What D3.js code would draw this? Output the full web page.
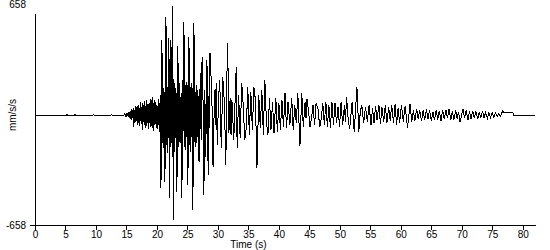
<!DOCTYPE html>
<html>
<head>
<meta charset="utf-8">
<script src="https://cdn.jsdelivr.net/npm/d3@7"></script>
<style>
  body { margin: 0; background: #fff; }
  text { font-family: "Liberation Sans", Arial, sans-serif; font-size: 10px; fill: #000; }
</style>
</head>
<body>
<script>
// tick values / labels
const xTicks = [0, 5, 10, 15, 20, 25, 30, 35, 40, 45, 50, 55, 60, 65, 70, 75, 80];
const yLimit = 658;
const xLabel = 'Time (s)';
const yLabel = 'mm/s/s';

// trace, [time s, accel mm/s/s]
const preEvent = [[0,0],[5.2,0],[5.3,4],[5.4,-3],[5.5,0],[6.5,0],[6.6,3],[6.7,-3],[6.8,0],
  [9.5,0],[9.6,3],[9.7,-2],[9.8,0],[12.5,0],[12.6,3],[12.7,-3],[12.8,0],[14.6,0]];

const pWave = [[14.7,6],[14.8,-5],[14.9,8],[15.0,-10],[15.1,12],[15.2,-8],[15.3,15],[15.4,-14],
  [15.5,18],[15.6,-25],[15.7,22],[15.8,-30],[15.9,35],[16.0,-20],[16.1,40],[16.2,-72],[16.3,30],
  [16.4,-45],[16.5,55],[16.6,-38],[16.7,48],[16.8,-60],[16.9,62],[17.0,-50],[17.1,40],[17.2,-66],
  [17.3,75],[17.4,-55],[17.5,50],[17.6,-90],[17.7,70],[17.8,-40],[17.9,85],[18.0,-60],[18.1,55],
  [18.2,-75],[18.3,90],[18.4,-50],[18.5,65],[18.6,-85],[18.7,72],[18.8,-45],[18.9,95],[19.0,-70],
  [19.1,-60],[19.2,108],[19.3,-80],[19.4,70],[19.5,-95],[19.6,88],[19.7,-55],[19.8,80],[19.9,-75],
  [20.0,60],[20.1,-85],[20.2,95],[20.3,-60],[20.4,70],[20.5,-100]];

const strongMotion = [[20.6,120],[20.66,-437],[20.74,140],[20.82,449],[20.9,-170],[20.98,100],
  [21.06,-200],[21.14,160],[21.22,70],[21.31,-401],[21.4,200],[21.48,586],[21.56,-180],[21.64,130],
  [21.72,-230],[21.8,170],[21.88,-140],[21.97,460],[22.03,-496],[22.12,150],[22.2,-190],[22.3,449],
  [22.38,-170],[22.46,120],[22.54,-250],[22.62,652],[22.66,-628],[22.74,180],[22.82,-220],[22.9,190],
  [22.98,-130],[23.06,160],[23.14,-210],[23.22,130],[23.28,-460],[23.36,100],[23.4,-80],[23.44,413],
  [23.52,-190],[23.6,140],[23.68,-160],[23.76,190],[23.84,-120],[23.92,-170],[24.0,130],[24.1,-496],
  [24.18,210],[24.26,-150],[24.34,130],[24.43,556],[24.51,-190],[24.59,160],[24.67,-210],[24.75,180],
  [24.83,-130],[24.91,200],[25.0,100],[25.08,-419],[25.16,130],[25.25,466],[25.33,-180],[25.41,150],
  [25.49,-220],[25.57,170],[25.65,-130],[25.73,190],[25.81,80],[25.9,-568],[25.98,180],[26.07,550],
  [26.15,-160],[26.23,130],[26.31,-190],[26.39,140],[26.47,-170],[26.55,180],[26.63,-130],[26.72,150]];

const coda1 = [[26.9,-280],[27.1,250],[27.25,-150],[27.4,347],[27.55,100],[27.7,-478],[27.85,150],
  [28.0,-250],[28.2,329],[28.4,-359],[28.55,150],[28.62,-80],[28.7,371],[29.0,120],[29.2,-311],
  [29.45,150],[29.6,-60],[29.7,191],[29.9,-180],[30.1,100],[30.3,209],[30.55,-200],[30.8,227],
  [31.05,80],[31.3,-299],[31.45,200],[31.6,431],[31.8,-108],[32.0,100],[32.15,-120],[32.3,90],
  [32.6,-150],[33.0,287],[33.15,-197],[33.4,120],[33.65,-140],[33.9,191],[34.15,60],[34.4,-150],
  [34.65,-80],[34.9,167],[35.15,-120],[35.4,140],[35.65,-90],[35.9,167],[36.15,90],[36.4,-317],
  [36.7,120],[36.95,-80],[37.2,150],[37.45,-120],[37.7,209],[37.95,-40],[38.2,-120],[38.45,100],
  [38.7,-90],[38.95,80],[39.2,-110]];

const coda2 = [[39.5,102],[39.75,-102],[40.0,70],[40.25,-90],[40.5,90],[40.75,-70],[41.0,132],
  [41.25,-80],[41.5,80],[41.8,-60],[42.1,102],[42.35,-90],[42.6,60],[42.85,-50],[43.1,132],
  [43.45,-185],[43.75,132],[44.0,-70],[44.3,80],[44.45,-20],[44.6,96],[44.85,30],[45.1,-72],
  [45.35,-20],[45.6,60],[45.85,-60],[46.1,70],[46.4,40],[46.7,-72],[46.95,-20],[47.2,72],
  [47.45,-60],[47.7,80],[47.95,-70],[48.2,60],[48.45,-80],[48.7,78],[48.95,-60],[49.2,70],
  [49.45,-50],[49.7,48],[49.95,-70],[50.2,80],[50.45,-60],[50.75,60],[50.9,-40],[51.1,108],
  [51.35,-20],[51.6,-84],[52.0,78],[52.35,-102],[52.8,167],[53.1,-102],[53.35,20],[53.6,60],
  [53.9,-50],[54.2,50],[54.5,-40],[54.8,60]];

const tail = [[55.1,-60],[55.35,40],[55.6,-50],[55.85,55],[56.1,-30],[56.4,60],[56.65,-55],[56.9,45],
  [57.2,-40],[57.45,62],[57.7,-50],[58.0,50],[58.25,-35],[58.5,58],[58.8,-45],[59.05,66],[59.3,-60],
  [59.55,40],[59.8,-50],[60.1,60],[60.4,-40],[60.7,55],[61.1,-78],[61.5,66],[61.8,-40],[62.05,30],
  [62.3,-35],[62.6,36],[62.85,-25],[63.1,30],[63.4,-36],[63.65,28],[63.9,-30],[64.2,36],[64.45,-25],
  [64.7,30],[65.0,-36],[65.25,20],[65.5,-30],[65.8,30],[66.05,-28],[66.3,24],[66.6,-36],[66.85,30],
  [67.1,-25],[67.4,28],[67.65,-20],[67.9,34],[68.2,-30],[68.45,24],[68.7,-28],[69.0,30],[69.25,-25],
  [69.45,20],[69.7,-42],[70.2,36],[70.45,-20],[70.7,28],[71.0,-30],[71.25,24],[71.5,-24],[71.8,26],
  [72.05,-20],[72.3,22],[72.6,-26],[72.85,18],[73.1,-20],[73.4,22],[73.65,-18],[73.9,16],[74.2,-20],
  [74.45,14],[74.7,-16],[75.0,14],[75.25,-12],[75.5,12],[75.8,-10],[76.05,10],[76.3,-8],[76.7,24],
  [76.9,12],[78.4,12],[78.5,0],[82.0,0]];

const trace = [...preEvent, ...pWave, ...strongMotion, ...coda1, ...coda2, ...tail];

const width = 550, height = 250;
const margin = {left: 35, right: 15, top: 5, bottom: 25};

const svg = d3.select('body')
  .append('svg')
  .attr('width', width)
  .attr('height', height);

const x = d3.scaleLinear().domain([0, 82]).range([margin.left, width - margin.right]);
const y = d3.scaleLinear().domain([-yLimit, yLimit]).range([height - margin.bottom, margin.top]);

/* x axis */
const xAxis = svg.append('g')
  .attr('transform', `translate(0,${y(-yLimit)})`)
  .attr('shape-rendering', 'crispEdges')
  .call(d3.axisBottom(x).tickValues(xTicks).tickSize(5).tickPadding(1).tickSizeOuter(0));
xAxis.selectAll('text').style('font-size', '10px').style('font-family', null);
xAxis.selectAll('path, line').attr('stroke', '#000');

/* y axis: only the lower tick is drawn, line stops short of the top */
const yAxis = svg.append('g')
  .attr('transform', `translate(${x(0)},0)`)
  .attr('shape-rendering', 'crispEdges')
  .call(d3.axisLeft(y).tickValues([-yLimit]).tickFormat(d => String(d))
    .tickSize(5).tickPadding(4).tickSizeOuter(0));
yAxis.select('.domain').remove();
yAxis.selectAll('text').style('font-size', '10px').style('font-family', null);
yAxis.selectAll('line').attr('stroke', '#000');
yAxis.append('line')
  .attr('y1', y(yLimit) + 9)
  .attr('y2', y(-yLimit))
  .attr('stroke', '#000');

svg.append('text')
  .attr('x', x(0) - 9)
  .attr('y', y(yLimit))
  .attr('dy', '0.32em')
  .attr('text-anchor', 'end')
  .text(yLimit);

/* the trace, aliased like the original bitmap */
svg.append('path')
  .datum(trace)
  .attr('d', d3.line().x(d => x(d[0])).y(d => y(d[1])))
  .attr('fill', 'none')
  .attr('stroke', '#000')
  .attr('stroke-width', 1)
  .attr('shape-rendering', 'crispEdges');

svg.append('text')
  .attr('x', x(35))
  .attr('y', height - 2)
  .attr('text-anchor', 'middle')
  .text(xLabel);

svg.append('text')
  .attr('transform', `translate(16,${y(0)}) rotate(-90)`)
  .attr('text-anchor', 'middle')
  .text(yLabel);
</script>
</body>
</html>
